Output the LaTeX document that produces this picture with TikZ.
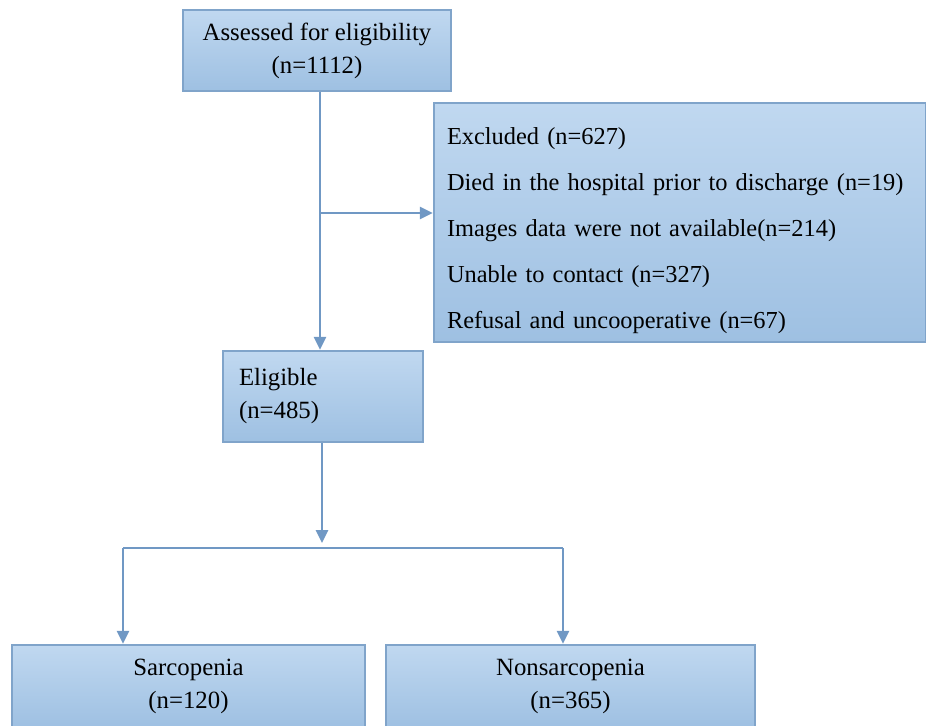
\documentclass[tikz,border=0pt]{standalone}
\usepackage{fontspec}
\setmainfont{Liberation Serif}
\usepackage{xcolor}
\usepackage{tikz}
\usetikzlibrary{arrows.meta,positioning,calc}
\definecolor{boxtop}{RGB}{192,216,240}
\definecolor{boxbot}{RGB}{158,192,226}
\definecolor{boxedge}{RGB}{128,164,202}
\definecolor{linkblue}{RGB}{112,152,196}

\begin{document}
\begin{tikzpicture}[
  x=0.5pt,y=-0.5pt,
  box/.style={rectangle,draw=boxedge,line width=1.2pt,top color=boxtop,bottom color=boxbot,align=center,inner sep=0pt,font=\fontsize{12.4}{16.5}\selectfont},
  lnk/.style={draw=linkblue,line width=1.4pt},
  arr/.style={lnk,-{Triangle[length=6.5pt,width=6pt]}}
]
\useasboundingbox (0,0) rectangle (926,725);
\node[box,minimum width=134pt,minimum height=40.5pt] (assess) at (317,50.5) {Assessed for eligibility\\(n=1112)};
\node[box,minimum width=246pt,minimum height=119.5pt,align=left,inner xsep=6.5pt,text width=233pt,font=\fontsize{12.2}{23}\selectfont] (excl) at (680,222.5) {\rule{0pt}{17pt}Excluded (n=627)\\Died in the hospital prior to discharge (n=19)\\Images data were not available(n=214)\\Unable to contact (n=327)\\Refusal and uncooperative (n=67)};
\node[box,minimum width=100pt,minimum height=45.5pt,align=left,text width=84pt] (elig) at (323,396.5) {Eligible\\(n=485)};
\node[box,minimum width=176.5pt,minimum height=41.5pt] (sarc) at (188.5,686.5) {Sarcopenia\\(n=120)};
\node[box,minimum width=184.5pt,minimum height=41.5pt] (nons) at (570.5,686.5) {Nonsarcopenia\\(n=365)};
\coordinate (fork) at (320,213);
\coordinate (bartip) at (322,543);
\coordinate (lb) at (123,548);
\coordinate (rb) at (563,548);
\draw[arr] (assess.south -| fork) -- (fork |- elig.north);
\draw[arr] (fork) -- (excl.west |- fork);
\draw[arr] (elig.south -| bartip) -- (bartip);
\draw[lnk] (lb) -- (rb);
\draw[arr] (lb) -- (lb |- sarc.north);
\draw[arr] (rb) -- (rb |- nons.north);
\end{tikzpicture}
\end{document}
